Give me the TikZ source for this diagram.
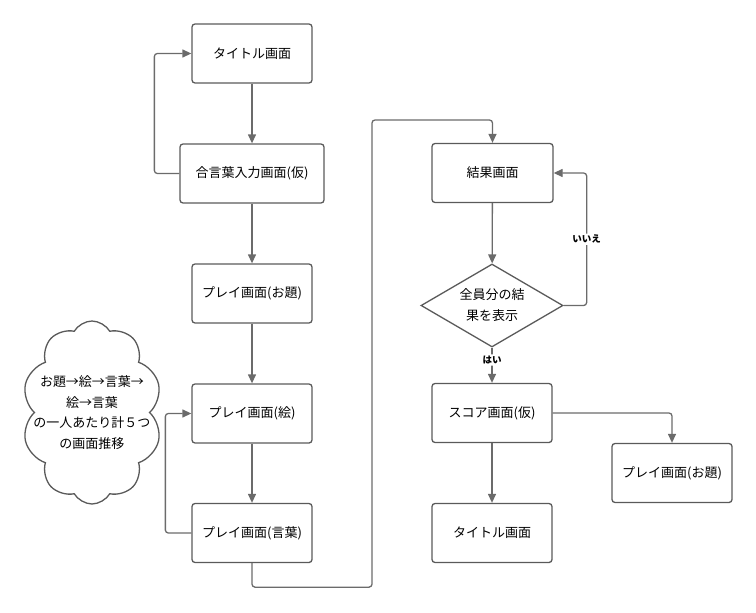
\documentclass[tikz,border=0pt]{standalone}
\usepackage{fontspec}
\setmainfont{Noto Sans CJK JP}
\usetikzlibrary{arrows.meta,positioning,shapes.geometric,shapes.symbols}
\definecolor{linegray}{HTML}{6B6B6B}
\definecolor{boxgray}{HTML}{5A5A5A}

\begin{document}
\begin{tikzpicture}[
    x=1pt, y=-1pt,
    line width=1.3pt,
    arr/.style={-{Triangle[length=9pt,width=8pt]}, draw=linegray, rounded corners=3pt},
    box/.style={draw=boxgray, rounded corners=3pt, minimum width=120pt,
      minimum height=59pt, font=\fontsize{13}{15}\selectfont},
    lbl/.style={fill=white, inner sep=1.5pt, font=\fontsize{9.5}{11}\selectfont\bfseries},
  ]
  \useasboundingbox (0,0) rectangle (756,613);

  % Left column
  \node[box] (title) at (252,53.5) {タイトル画面};
  \node[box, minimum width=144pt] (aikotoba) at (252,173.5) {合言葉入力画面(仮)};
  \node[box] (playodai) at (252,293.5) {プレイ画面(お題)};
  \node[box] (playe) at (252,413.5) {プレイ画面(絵)};
  \node[box] (playkotoba) at (252,533) {プレイ画面(言葉)};

  % Memo cloud
  \node[cloud, draw=boxgray, cloud puffs=10, cloud puff arc=120,
        inner sep=0pt, minimum width=140pt, minimum height=183pt] (memo) at (92,412.5) {};
  \node[align=center, inner sep=0pt, font=\fontsize{13}{20.5}\selectfont]
    (memotext) at (memo.center) {お題→絵→言葉→\\絵→言葉\\の一人あたり計５つ\\の画面推移};

  % Right column
  \node[box, minimum width=121pt] (kekka) at (492.5,173) {結果画面};
  \node[diamond, draw=boxgray, aspect=1.71, inner sep=0pt, minimum width=142pt,
        minimum height=83pt, align=center, font=\fontsize{13}{21}\selectfont]
    (judge) at (492,305.5) {全員分の結\\果を表示};
  \node[box] (score) at (492,413) {スコア画面(仮)};
  \node[box] (title2) at (492,533) {タイトル画面};
  \node[box] (playodai2) at (672,473) {プレイ画面(お題)};

  \coordinate (loop) at (372,120);

  % Connectors
  \draw[arr] (title) -- (aikotoba);
  \draw[arr] (aikotoba.west) -- ++(-25,0) |- (title.west);
  \draw[arr] (aikotoba) -- (playodai);
  \draw[arr] (playodai) -- (playe);
  \draw[arr] (playe) -- (playkotoba);
  \draw[arr] (playkotoba.west) -- ++(-26,0) |- (playe.west);
  \draw[arr] (playkotoba.south) -- ++(0,24) -| (loop) -| (kekka.north);
  \draw[arr] (kekka) -- (judge);
  \draw[arr] (judge.east) -- ++(23,0) |- (kekka.east)
    node[lbl, pos=0.25] {いいえ};
  \draw[arr] (judge) -- node[lbl, pos=0.35] {はい} (score);
  \draw[arr] (score.east) -| (playodai2.north);
  \draw[arr] (score) -- (title2);

\end{tikzpicture}
\end{document}
